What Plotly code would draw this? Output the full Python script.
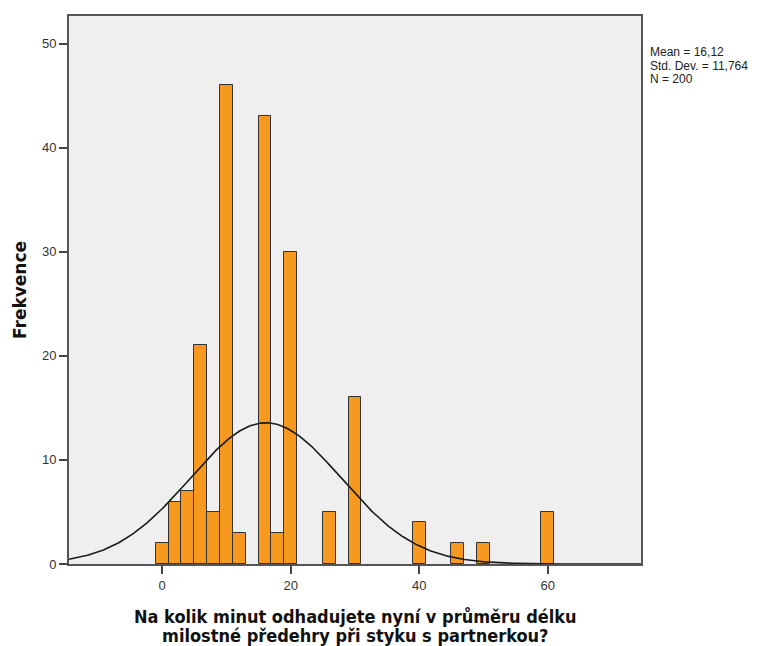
import numpy as np
import plotly.graph_objects as go

# Histogram data (bin centres, bin width 2 minutes)
bin_centers = [0, 2, 4, 6, 8, 10, 12, 16, 18, 20, 26, 30, 40, 46, 50, 60]
frequencies = [2, 6, 7, 21, 5, 46, 3, 43, 3, 30, 5, 16, 4, 2, 2, 5]
BIN_WIDTH = 2

# Summary statistics shown on the chart
MEAN = 16.12
SD = 11.764
N = 200
stat_lines = ["Mean = 16,12", "Std. Dev. = 11,764", "N = 200"]

x_title_lines = ["Na kolik minut odhadujete nyní v průměru délku",
                 "milostné předehry při styku s partnerkou?"]
y_title = "Frekvence"

x_ticks = [0, 20, 40, 60]
y_ticks = [0, 10, 20, 30, 40, 50]
X_RANGE = [-14.5, 74.5]
Y_RANGE = [0, 52.65]

# Fitted normal curve scaled to counts
xs = np.linspace(X_RANGE[0], X_RANGE[1], 400)
ys = N * BIN_WIDTH / (SD * np.sqrt(2 * np.pi)) * np.exp(-0.5 * ((xs - MEAN) / SD) ** 2)

fig = go.Figure()
fig.add_trace(go.Bar(
    x=bin_centers, y=frequencies, width=[BIN_WIDTH] * len(bin_centers),
    marker=dict(color="#F7991F", line=dict(color="#333333", width=1)),
    hoverinfo="x+y", showlegend=False,
))
fig.add_trace(go.Scatter(
    x=xs, y=ys, mode="lines", line=dict(color="#1a1a1a", width=1.6),
    hoverinfo="skip", showlegend=False,
))

axis_font = dict(family="Liberation Sans, Arial, sans-serif", size=13, color="#333333")
fig.update_layout(
    width=770, height=638,
    margin=dict(l=61, r=137, t=6, b=82, pad=0),
    paper_bgcolor="white", plot_bgcolor="#EFEFEF",
    bargap=0,
    xaxis=dict(range=X_RANGE, tickvals=x_ticks, ticks="outside", ticklen=8,
               tickwidth=2, tickcolor="#444444", showgrid=False, zeroline=False,
               showline=True, linecolor="#555555", linewidth=2, mirror=True,
               tickfont=axis_font, ticklabelstandoff=0),
    yaxis=dict(range=Y_RANGE, tickvals=y_ticks, ticks="outside", ticklen=8,
               tickwidth=2, tickcolor="#444444", showgrid=False, zeroline=False,
               showline=True, linecolor="#555555", linewidth=2, mirror=True,
               tickfont=axis_font),
)

title_font = dict(family="DejaVu Sans Condensed, DejaVu Sans, sans-serif", size=18, color="#111111")
annotations = []
for i, line in enumerate(x_title_lines):
    annotations.append(dict(
        text="<b>" + line + "</b>", xref="paper", yref="paper", x=0.5, y=0,
        xanchor="center", yanchor="middle", yshift=-52 - 19 * i, showarrow=False,
        font=title_font))
annotations.append(dict(
    text="<b>" + y_title + "</b>", textangle=-90,
    xref="paper", yref="paper", x=0, y=0.5, xanchor="center", yanchor="middle",
    xshift=-49, showarrow=False,
    font=dict(family="DejaVu Sans, sans-serif", size=17, color="#111111")))
for i, line in enumerate(stat_lines):
    annotations.append(dict(
        text=line, xref="paper", yref="paper", x=1, y=1, xanchor="left", yanchor="top",
        xshift=7, yshift=-27 - 13.5 * i, showarrow=False,
        font=dict(family="Liberation Sans, Arial, sans-serif", size=12, color="#222222")))
fig.update_layout(annotations=annotations)

fig.write_html("out.html")
